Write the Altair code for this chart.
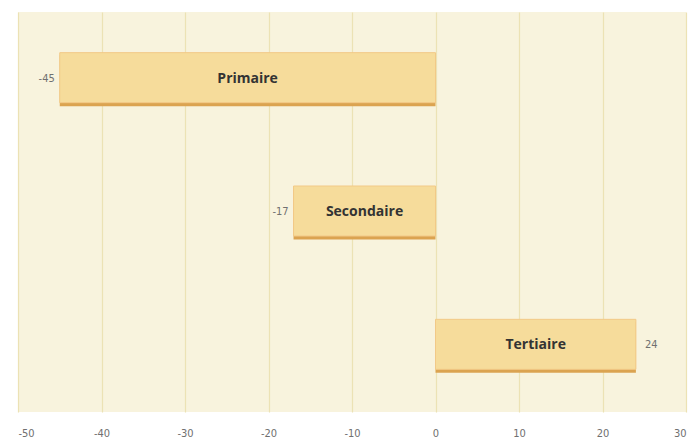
import altair as alt
import pandas as pd

sectors = ["Primaire", "Secondaire", "Tertiaire"]
values = [-45, -17, 24]
tick_values = [-50, -40, -30, -20, -10, 0, 10, 20, 30]

df = pd.DataFrame({"sector": sectors, "value": values})
df["mid"] = df["value"] / 2
df["zero"] = 0
df["lab"] = df["value"].astype(str)

lab_font = "DejaVu Sans Condensed"

x = alt.X("value:Q", scale=alt.Scale(domain=[-50, 30], nice=False, zero=False),
          axis=alt.Axis(values=tick_values, title=None, grid=True, gridColor="#ece2b4",
                        gridWidth=1.2, domain=False, ticks=False, labelFontSize=11,
                        labelColor="#707070", labelPadding=15, labelFont=lab_font,
                        labelExpr="'' + datum.value"))
y = alt.Y("sector:N", sort=sectors, axis=None, scale=alt.Scale(paddingInner=0.6, paddingOuter=0.3))

base = alt.Chart(df)

shadow = base.mark_bar(size=51, color="#dba350", yOffset=2).encode(x=x, x2="zero:Q", y=y)
bars = base.mark_bar(size=50, color="#f6dc9b", stroke="#f2c987", strokeWidth=1, yOffset=-1).encode(
    x=x, x2="zero:Q", y=y)

names = base.mark_text(fontWeight="bold", fontSize=14, color="#333333", font="Open Sans").encode(
    x="mid:Q", y=y, text="sector:N")

neg = base.transform_filter("datum.value < 0").mark_text(
    align="right", dx=-5, fontSize=11, color="#707070", font=lab_font).encode(
    x="value:Q", y=y, text="lab:N")
pos = base.transform_filter("datum.value > 0").mark_text(
    align="left", dx=9, fontSize=11, color="#707070", font=lab_font).encode(
    x="value:Q", y=y, text="lab:N")

chart = alt.layer(shadow, bars, names, neg, pos).properties(
    width=668, height=400,
    autosize=alt.AutoSizeParams(type="none"),
    padding={"left": 10, "top": 4, "right": 4, "bottom": 30},
    background="#ffffff",
).configure_view(fill="#f8f3dd", stroke=None)

chart.save("out.html", embed_options={"renderer": "svg", "actions": False})
